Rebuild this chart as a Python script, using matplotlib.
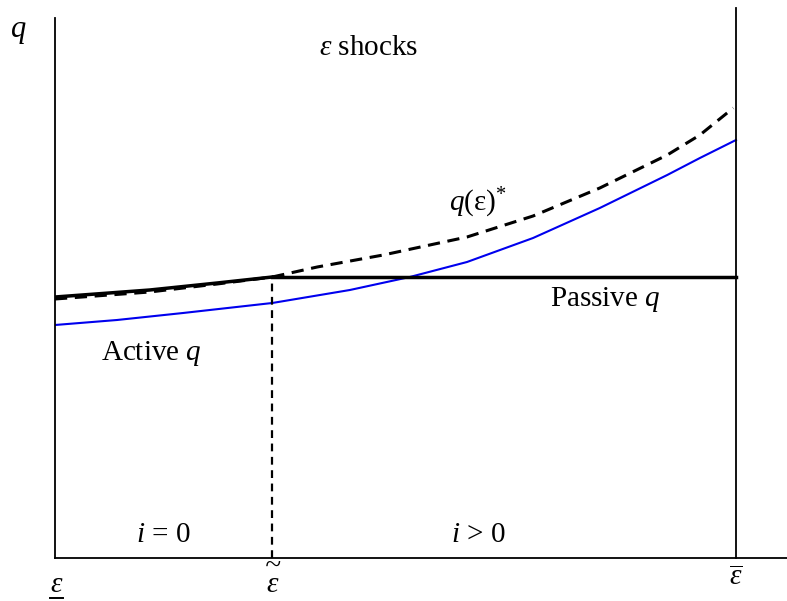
import matplotlib.pyplot as plt

plt.rcParams['font.family'] = ['Liberation Serif', 'DejaVu Serif']
plt.rcParams['mathtext.fontset'] = 'custom'
plt.rcParams['mathtext.rm'] = 'Liberation Serif'
plt.rcParams['mathtext.it'] = 'Liberation Serif:italic'

# ε axis: 0 = lower bound, 1 = upper bound
eps_low = 0.0
eps_tilde = 0.319
eps_high = 1.0

# q(ε)* (dashed)
eps_star = [0.0, 0.139, 0.238, 0.319, 0.385, 0.482, 0.605, 0.702, 0.800, 0.899, 0.947, 0.996]
q_star = [2.59, 2.66, 2.74, 2.81, 2.91, 3.03, 3.21, 3.42, 3.70, 4.03, 4.23, 4.50]

# blue curve
eps_blue = [0.0, 0.091, 0.188, 0.319, 0.433, 0.521, 0.605, 0.702, 0.800, 0.899, 0.947, 1.0]
q_blue = [2.33, 2.38, 2.45, 2.55, 2.68, 2.81, 2.96, 3.20, 3.50, 3.83, 4.00, 4.18]

# active q (solid, up to eps tilde) and passive q (flat)
eps_active = [0.0, 0.139, 0.238, 0.319]
q_active = [2.61, 2.68, 2.75, 2.81]
q_passive = 2.81

fig = plt.figure(figsize=(7.87, 6.01), dpi=100)
ax = fig.add_axes([55 / 787, 43 / 601, 732 / 787, 540 / 601])
ax.set_xlim(0, 732 / 681)
ax.set_ylim(0, 5.40)
for s in ['top', 'right']:
    ax.spines[s].set_visible(False)
ax.spines['left'].set_linewidth(1.3)
ax.spines['bottom'].set_linewidth(1.3)
ax.set_xticks([])
ax.set_yticks([])

ax.plot(eps_blue, q_blue, color='#0000ee', lw=1.5)
ax.plot(eps_star, q_star, color='black', lw=2.2, dashes=(4, 2.5))
ax.plot(eps_active, q_active, color='black', lw=2.5)
ax.plot([eps_tilde, eps_high], [q_passive, q_passive], color='black', lw=2.5)
ax.plot([eps_tilde, eps_tilde], [0, q_passive], color='black', lw=1.6, dashes=(3.5, 2.5))
ax.plot([eps_high, eps_high], [0, 5.50], color='black', lw=1.3, clip_on=False)

fs = 21
ax.text(-0.054, 5.28, 'q', fontsize=fs + 1, style='italic', ha='center', va='center')
ax.text(0.46, 5.10, r'$ε$ shocks', fontsize=fs, ha='center', va='center')
ax.text(0.578, 3.55, r'$q(\mathrm{ε})^{*}$', fontsize=fs, ha='left', va='center')
ax.text(0.808, 2.58, r'Passive $q$', fontsize=fs, ha='center', va='center')
ax.text(0.142, 2.05, r'Active $q$', fontsize=fs, ha='center', va='center')
ax.text(0.159, 0.23, r'$i$ = 0', fontsize=fs, ha='center', va='center')
ax.text(0.621, 0.23, r'$i$ > 0', fontsize=fs, ha='center', va='center')

# bound labels under the axis
ax.text(eps_low + 0.002, -0.27, 'ε', fontsize=fs, style='italic', ha='center', va='center', clip_on=False)
ax.plot([eps_low - 0.008, eps_low + 0.012], [-0.40, -0.40], color='black', lw=1.4, clip_on=False)
ax.text(eps_tilde, -0.40, '~\nε', fontsize=fs, style='italic', ha='center', va='bottom',
        linespacing=0.55, clip_on=False)
ax.text(eps_high, -0.20, r'$\overline{ε}$', fontsize=fs, ha='center', va='center', clip_on=False)

fig.savefig('out.png', dpi=100)
